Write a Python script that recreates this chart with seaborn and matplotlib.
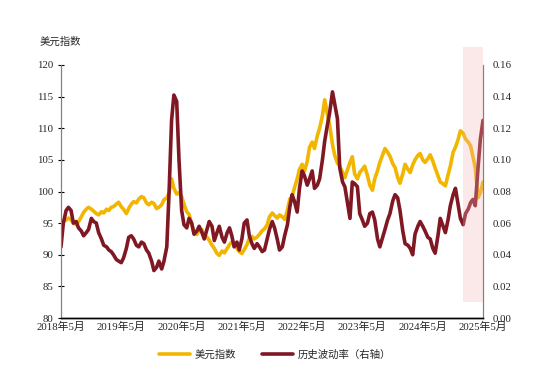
import numpy as np
import pandas as pd
import seaborn as sns
import matplotlib
import matplotlib.pyplot as plt
matplotlib.use('Agg')

# semi-monthly points, 2018-05 .. 2025-05
dates = pd.date_range('2018-05-01', periods=169, freq='SMS')

dxy = [
    94.5, 95.2, 95.5, 95.8, 95.5, 95.0, 94.8, 95.2, 96.0, 96.7,
    97.2, 97.5, 97.2, 96.9, 96.5, 96.3, 96.8, 96.6, 97.2, 97.0,
    97.5, 97.6, 98.0, 98.3, 97.6, 97.2, 96.5, 97.3, 98.0, 98.4,
    98.2, 98.8, 99.2, 99.0, 98.2, 97.9, 98.3, 98.1, 97.3, 97.5,
    97.9, 98.7, 99.0, 99.8, 102.0, 100.5, 99.6, 99.8, 99.2, 98.0,
    96.8, 96.4, 94.8, 93.5, 93.2, 93.9, 94.0, 93.0, 92.8, 92.3,
    91.5, 91.0, 90.2, 89.9, 90.6, 90.3, 91.0, 91.6, 92.0, 91.8,
    91.0, 90.5, 90.2, 90.8, 91.6, 92.6, 92.9, 92.5, 92.8, 93.2,
    93.8, 94.1, 94.7, 96.0, 96.6, 96.2, 95.8, 96.3, 96.0, 95.6,
    97.0, 98.8, 99.2, 100.5, 102.0, 103.5, 104.3, 103.2, 104.8, 107.0,
    107.8, 106.8, 108.8, 110.0, 112.0, 114.5, 112.2, 110.5, 107.4, 105.7,
    104.5, 104.0, 103.0, 102.2, 103.5, 104.6, 105.5, 102.8, 102.0, 103.0,
    103.5, 104.0, 102.5, 101.0, 100.2, 102.0, 103.3, 104.6, 105.8, 106.8,
    106.2, 105.6, 104.4, 103.8, 102.2, 101.3, 102.8, 104.3, 103.5, 103.0,
    104.2, 105.0, 105.7, 106.0, 105.0, 104.6, 105.2, 105.8, 104.8, 103.7,
    102.5, 101.5, 101.2, 100.9, 102.6, 104.0, 106.2, 107.0, 108.2, 109.6,
    109.2, 108.3, 107.8, 107.2, 105.5, 103.8, 99.0, 99.8, 101.5,
]

vol = [
    0.045, 0.060, 0.068, 0.070, 0.068, 0.060, 0.061, 0.057, 0.055, 0.052,
    0.054, 0.056, 0.063, 0.061, 0.060, 0.054, 0.050, 0.046, 0.045, 0.043,
    0.042, 0.040, 0.037, 0.036, 0.035, 0.038, 0.044, 0.051, 0.052, 0.050,
    0.046, 0.045, 0.048, 0.047, 0.043, 0.041, 0.036, 0.030, 0.032, 0.036,
    0.031, 0.036, 0.045, 0.080, 0.125, 0.141, 0.137, 0.100, 0.068, 0.059,
    0.057, 0.063, 0.060, 0.053, 0.055, 0.058, 0.054, 0.050, 0.056, 0.061,
    0.058, 0.049, 0.054, 0.058, 0.051, 0.048, 0.054, 0.057, 0.052, 0.045,
    0.048, 0.043, 0.050, 0.060, 0.062, 0.052, 0.047, 0.044, 0.047, 0.045,
    0.042, 0.043, 0.050, 0.056, 0.061, 0.057, 0.050, 0.043, 0.045, 0.052,
    0.059, 0.070, 0.078, 0.074, 0.067, 0.082, 0.093, 0.090, 0.084, 0.088,
    0.093, 0.082, 0.084, 0.088, 0.100, 0.112, 0.122, 0.130, 0.143, 0.135,
    0.126, 0.095, 0.086, 0.083, 0.072, 0.063, 0.086, 0.085, 0.083, 0.066,
    0.062, 0.058, 0.060, 0.066, 0.067, 0.062, 0.050, 0.045, 0.051, 0.056,
    0.062, 0.066, 0.074, 0.078, 0.076, 0.068, 0.055, 0.047, 0.046, 0.044,
    0.040, 0.053, 0.058, 0.061, 0.058, 0.055, 0.051, 0.050, 0.044, 0.041,
    0.052, 0.063, 0.058, 0.054, 0.062, 0.071, 0.078, 0.082, 0.072, 0.063,
    0.059, 0.066, 0.069, 0.073, 0.075, 0.071, 0.095, 0.113, 0.125,
]

tick_dates = pd.date_range('2018-05-01', '2025-05-01', freq='12MS')
tick_labels = ['2018年5月', '2019年5月', '2020年5月', '2021年5月',
               '2022年5月', '2023年5月', '2024年5月', '2025年5月']

shade_start = pd.Timestamp('2025-01-01')
shade_end = pd.Timestamp('2025-05-01')

df = pd.DataFrame({'date': dates, 'dxy': dxy, 'vol': vol})

sns.set_style('white')
fam = ['Liberation Serif', 'Noto Sans CJK SC']
plt.rcParams['font.family'] = fam
plt.rcParams['axes.unicode_minus'] = False

yellow = '#F2B500'
red = '#801824'

fig = plt.figure(figsize=(5.5, 3.81), dpi=100)
ax = fig.add_axes([61 / 550, 1 - 318 / 381, 422 / 550, 253 / 381])
ax2 = ax.twinx()

sns.lineplot(data=df, x='date', y='dxy', ax=ax, color=yellow, linewidth=2.6, label='美元指数', legend=False)
sns.lineplot(data=df, x='date', y='vol', ax=ax2, color=red, linewidth=2.6, label='历史波动率（右轴）', legend=False)

ax.set_ylim(80, 120)
ax.set_yticks(np.arange(80, 121, 5))
ax2.set_ylim(0, 0.16)
ax2.set_yticks(np.arange(0, 0.161, 0.02))
ax2.set_yticklabels([f'{v:.2f}' for v in np.arange(0, 0.161, 0.02)])
ax.set_xlim(dates[0], dates[-1])
ax.set_xticks(tick_dates)
ax.set_xticklabels(tick_labels)

# translucent highlight, drawn over both lines
ax2.axvspan(shade_start, shade_end, ymin=0.0625, ymax=1.07, color=(0.96, 0.72, 0.72),
            alpha=0.3, lw=0, clip_on=False, zorder=5)

for a in (ax, ax2):
    a.set_xlabel('')
    a.set_ylabel('')
    a.spines['top'].set_visible(False)
    a.spines['left'].set_color('#808080')
    a.spines['right'].set_color('#808080')
    a.spines['bottom'].set_color('black')
    a.spines['left'].set_linewidth(0.8)
    a.spines['right'].set_linewidth(0.8)
    a.spines['bottom'].set_linewidth(1.0)

ax.tick_params(axis='y', direction='inout', length=5, width=0.8, color='black', labelsize=7.8, pad=3)
ax.tick_params(axis='x', direction='in', length=4, width=0.8, color='black', labelsize=7.8, pad=3)
ax2.tick_params(axis='y', length=0, labelsize=7.8, pad=7)

fig.text(40 / 550, 1 - 42 / 381, '美元指数', fontsize=7.5, va='center', ha='left')

h1, l1 = ax.get_legend_handles_labels()
h2, l2 = ax2.get_legend_handles_labels()
fig.legend(h1 + h2, l1 + l2, loc='center', bbox_to_anchor=(0.5, 1 - 355 / 381), ncol=2,
           frameon=False, fontsize=7.5, handlelength=3.0, columnspacing=2.5, handletextpad=0.4)

fig.savefig('out.png', dpi=100)
